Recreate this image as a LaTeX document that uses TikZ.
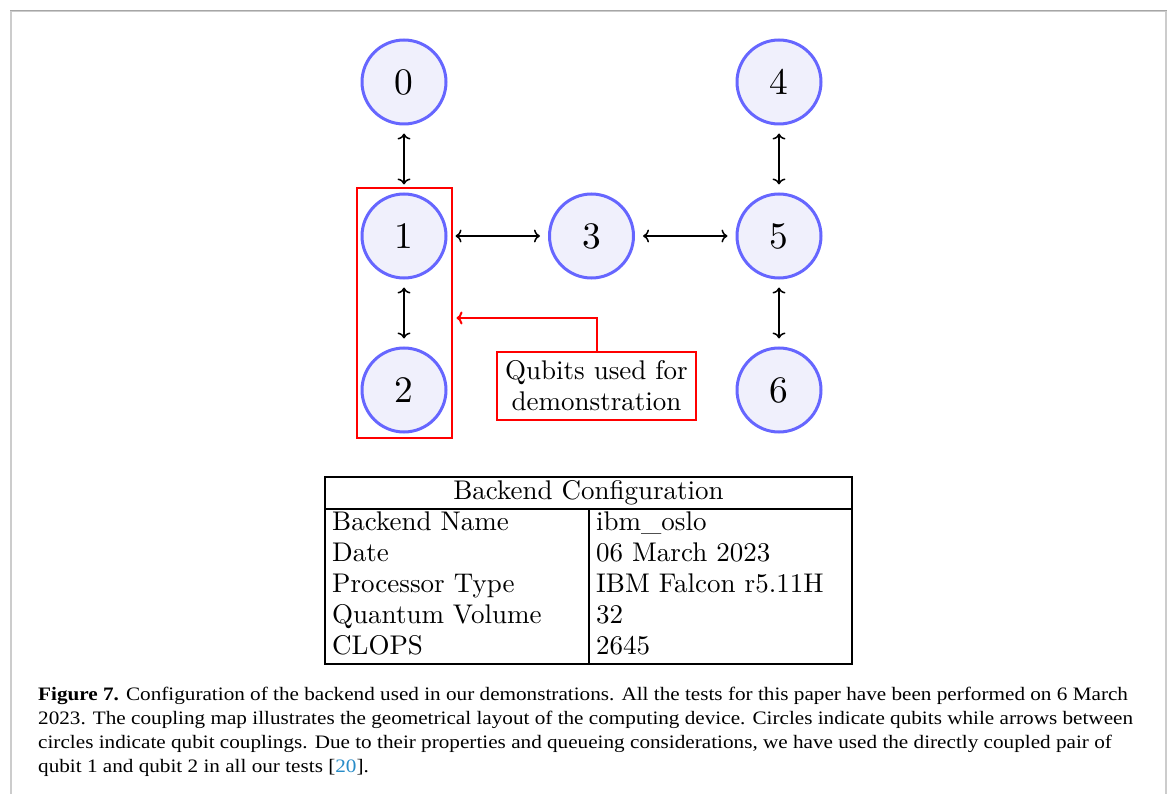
\documentclass[tikz,border=0pt]{standalone}
\usepackage{fontspec}
\setmainfont{lmroman10-regular.otf}
\usepackage{tikz}
\usetikzlibrary{positioning,fit,arrows.meta}
\newfontfamily\captionfont[FakeStretch=1.115]{Liberation Serif}
\newcommand\qubitfont{\fontsize{37.4}{45}\selectfont}
\newcommand\boxfont{\fontsize{27}{31}\selectfont}
\definecolor{qubitline}{RGB}{102,102,255}
\definecolor{qubitfill}{RGB}{240,240,252}
\definecolor{refblue}{RGB}{40,140,200}
\tikzset{
  qubit/.style={circle, draw=qubitline, fill=qubitfill, line width=3pt,
    minimum size=84pt, inner sep=0pt, font=\qubitfont},
  coupling/.style={<->, line width=1.5pt, shorten <=8pt, shorten >=8pt},
  marker/.style={draw=red, line width=2pt, inner sep=4pt},
  notebox/.style={draw=red, line width=2pt, align=center, inner xsep=8pt,
    inner ysep=9pt, font=\boxfont},
  pointer/.style={->, red, line width=2pt, shorten >=4pt},
  cell/.style={font=\boxfont, inner sep=0pt}
}

\begin{document}
\begin{tikzpicture}[x=1pt, y=-1pt, node distance=154pt and 187.5pt, on grid,
    >={To[length=6pt, width=13pt]}]
            \useasboundingbox (0,0) rectangle (1170,794);
            % page frame
            \draw[gray!40, line width=2pt] (11,794) -- (11,11) -- (1166,11) -- (1166,794);
            \draw[gray!70, line width=1pt] (10,11) -- (1167,11);

            % coupling map
            \node[qubit] (q1) at (404,236) {1};
            \node[qubit, above=of q1] (q0) {0};
            \node[qubit, below=of q1] (q2) {2};
            \node[qubit, right=of q1] (q3) {3};
            \node[qubit, right=of q3] (q5) {5};
            \node[qubit, above=of q5] (q4) {4};
            \node[qubit, below=of q5] (q6) {6};
            \draw[coupling] (q0) -- (q1);
            \draw[coupling] (q1) -- (q2);
            \draw[coupling] (q1) -- (q3);
            \draw[coupling] (q3) -- (q5);
            \draw[coupling] (q4) -- (q5);
            \draw[coupling] (q5) -- (q6);

            \node[marker, fit=(q1)(q2)] (used) {};
            \node[notebox] (note) at (596.5,386) {Qubits used for\\demonstration};
            \coordinate (bend) at (0,318);
            \draw[pointer] (note) |- (used.east |- bend);

            % backend table
            \draw[line width=2pt] (325,477) rectangle (852,664);
            \draw[line width=2pt] (325,509) -- (852,509);
            \draw[line width=2pt] (589,509) -- (589,664);
            \node[cell, anchor=base] (head) at (588.5,499) {Backend Configuration};
            \foreach \key/\val [count=\i] in {Backend Name/ibm\_oslo, Date/06 March 2023,
                Processor Type/IBM Falcon r5.11H, Quantum Volume/32, CLOPS/2645} {
                \node[cell, anchor=base west] (key\i) at (332,499+31*\i) {\key};
                \node[cell, anchor=base west] (val\i) at (596,499+31*\i) {\val};
            }

            % caption
            \node[anchor=base west, align=left, inner sep=0pt,
                  font=\captionfont\fontsize{19}{24}\selectfont] (caption) at (38,772)
                {\textbf{Figure 7.} Configuration of the backend used in our demonstrations. All the tests for this paper have been performed on 6 March\\
                 2023. The coupling map illustrates the geometrical layout of the computing device. Circles indicate qubits while arrows between\\
                 circles indicate qubit couplings. Due to their properties and queueing considerations, we have used the directly coupled pair of\\
                 qubit 1 and qubit 2 in all our tests [{\color{refblue}20}].};
        \end{tikzpicture}
\end{document}
